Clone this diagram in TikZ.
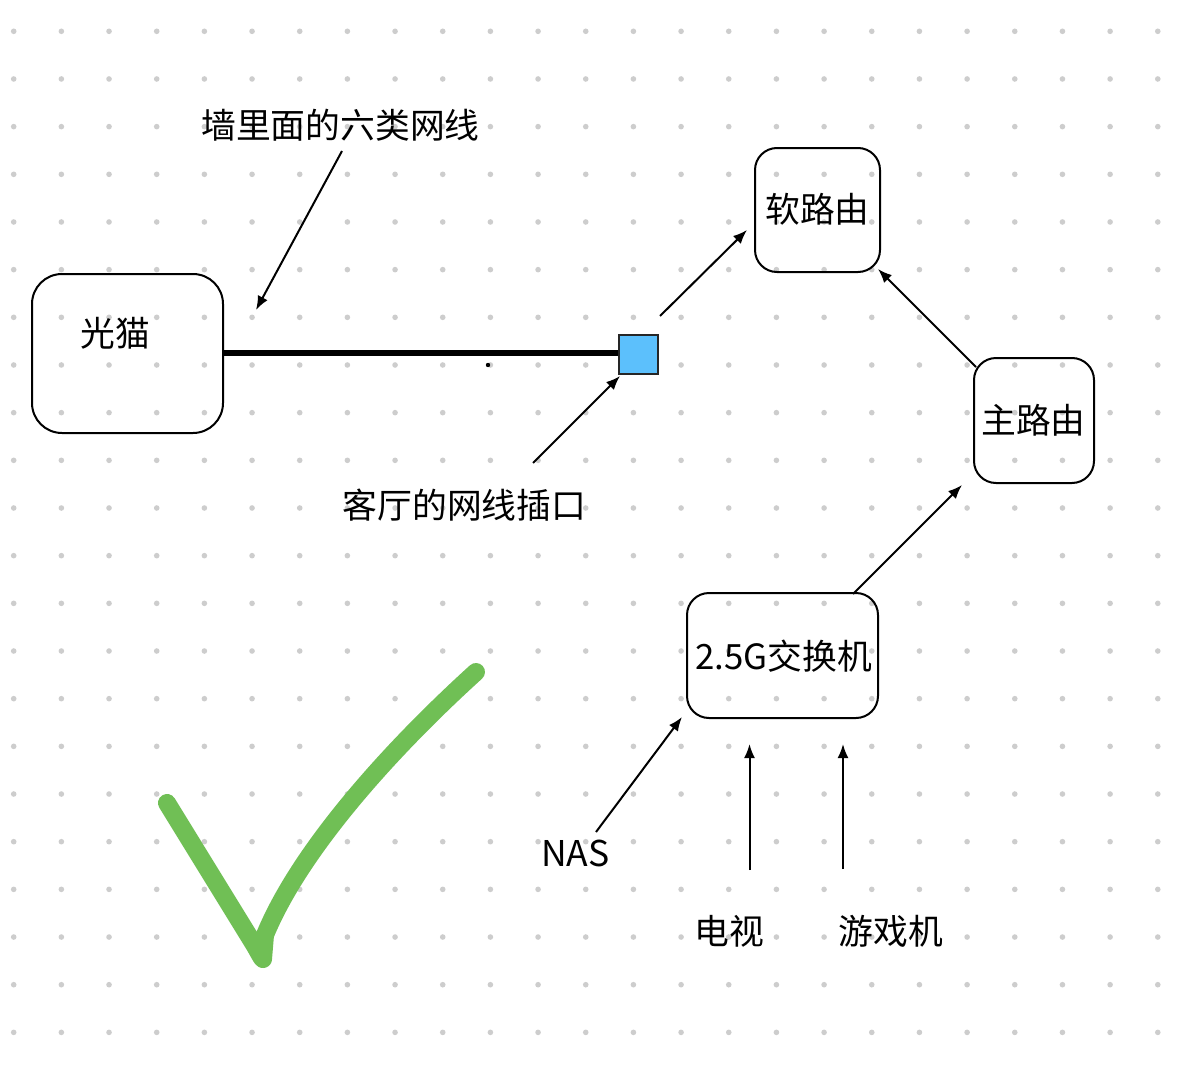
\documentclass[tikz,border=0pt]{standalone}
\usepackage{fontspec}
\setmainfont{Noto Sans CJK SC}
\usetikzlibrary{arrows.meta}
\definecolor{griddot}{RGB}{205,205,205}
\definecolor{tick}{RGB}{112,191,85}
\definecolor{sq}{RGB}{92,192,252}
\tikzset{
  x=1pt,y=-1pt,
  device/.style={draw=black,line width=2pt,fill=none,inner sep=0pt,rounded corners=#1},
  lbl/.style={inner sep=0pt,font=\fontsize{34.8}{34.8}\selectfont,text=black},
  arr/.style={draw=black,line width=2pt,-{Latex[length=14pt,width=11pt]},shorten >=0pt,shorten <=0pt},
}
\begin{document}
\begin{tikzpicture}
\useasboundingbox (0,0) rectangle (1200,1065);
\fill[white] (0,0) rectangle (1200,1065);
\foreach \i in {0,...,24}{\foreach \j in {0,...,21}{
  \fill[griddot] ({13.7+47.67*\i},{31.3+47.67*\j}) circle (2.8pt);
}}
% boxes
\node[device=30pt,minimum width=191pt,minimum height=159pt] (modem) at (127.5,353.5) {};
\node[device=22pt,minimum width=125pt,minimum height=124pt] (soft) at (817.5,210) {};
\node[device=22pt,minimum width=120pt,minimum height=125pt] (main) at (1034,420.5) {};
\node[device=22pt,minimum width=191pt,minimum height=125pt] (switch) at (782.5,655.5) {};
\node[draw=black!85,line width=2pt,fill=sq,minimum size=39pt,inner sep=0pt] (port) at (638,354) {};
% labels
\node[lbl] (tmodem) at (115.5,333) {光猫};
\node[lbl] (tsoft) at (817.5,209) {软路由};
\node[lbl] (tmain) at (1033.5,420) {主路由};
\node[lbl] (tswitch) at (783.5,656) {2.5G交换机};
\node[lbl] (twall) at (340.5,125) {墙里面的六类网线};
\node[lbl] (troom) at (464.5,505) {客厅的网线插口};
\node[lbl,font=\fontsize{35.5}{35.5}\selectfont] (tnas) at (575.5,853) {NAS};
\node[lbl] (ttv) at (729,931) {电视};
\node[lbl] (tgame) at (891,931) {游戏机};
% free ends
\coordinate (a1s) at (342,151); \coordinate (a1e) at (256,310);
\coordinate (a2s) at (533,463); \coordinate (a2e) at (620,376);
\coordinate (a3s) at (660,316); \coordinate (a3e) at (747,230);
\coordinate (a4s) at (976,367); \coordinate (a4e) at (878,269);
\coordinate (a5s) at (853,594); \coordinate (a5e) at (962,485);
\coordinate (a6s) at (596,832); \coordinate (a6e) at (682,717);
\coordinate (a7s) at (749.5,870); \coordinate (a7e) at (749.5,744);
\coordinate (a8s) at (843,869); \coordinate (a8e) at (843,744);
\foreach \k in {1,...,8}{\draw[arr] (a\k s) -- (a\k e);}
% thick cable
\draw[line width=5.5pt,black] (modem.east |- 0,353) -- (port.west |- 0,353);
\fill[black] (488,365) circle (2.2pt);
% tick
\draw[tick,line width=18pt,line cap=round,line join=round]
  (167,803) -- (255,946) .. controls (259,953) and (262,959) .. (263,959)
  -- (265,935) .. controls (300,850) and (390,750) .. (476,672);
\end{tikzpicture}
\end{document}
